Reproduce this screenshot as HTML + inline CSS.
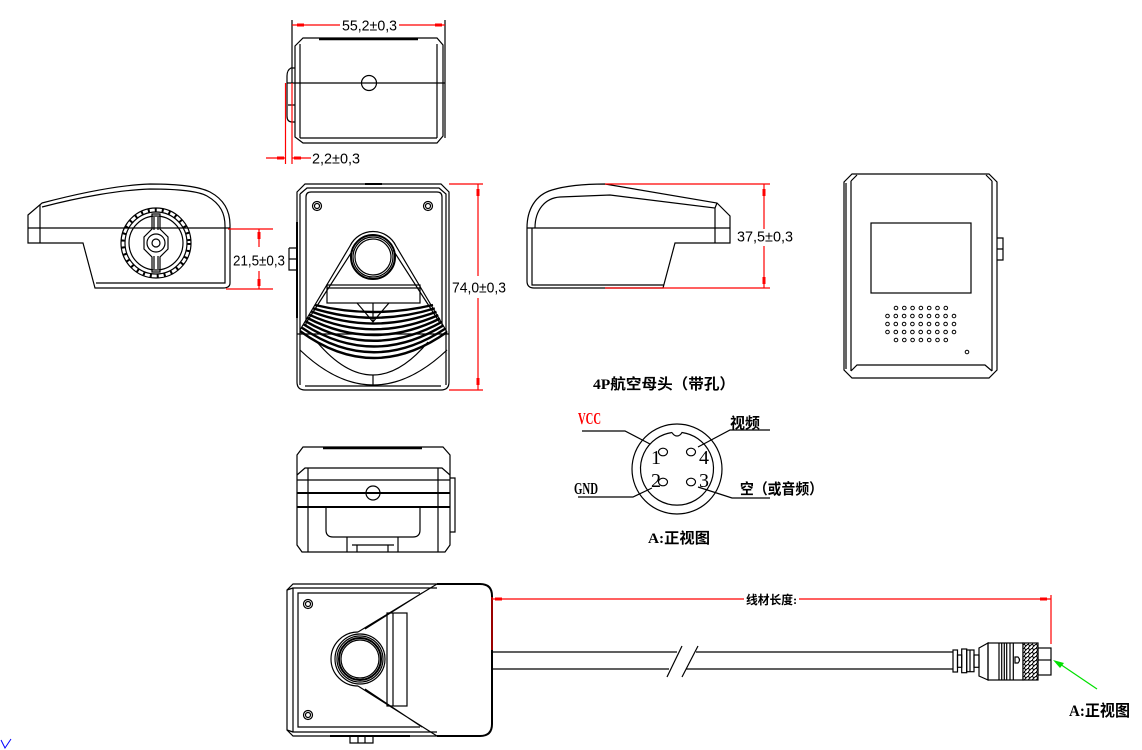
<!DOCTYPE html>
<html><head><meta charset="utf-8"><style>
html,body{margin:0;padding:0;background:#fff;}
svg{display:block}
.k{fill:none;stroke:#000;stroke-width:1.2}
.r{fill:none;stroke:#f00;stroke-width:1.2}
.dim{font-family:"Liberation Sans",sans-serif;font-size:15px;fill:#000}
.cn{font-family:"Liberation Serif","Noto Sans CJK SC",serif;font-weight:bold;fill:#000}
.sf{font-family:"Liberation Serif",serif;fill:#000}
</style></head><body>
<svg width="1142" height="750" viewBox="0 0 1142 750" xmlns="http://www.w3.org/2000/svg">
<defs>
<pattern id="kn" width="4" height="4" patternUnits="userSpaceOnUse">
<rect width="4" height="4" fill="#fff"/>
<path d="M0,0 L2,2 M2,2 L4,0 M0,4 L2,2" stroke="#000" stroke-width="1"/>
</pattern>
</defs>

<!-- ============ TOP VIEW ============ -->
<g class="k">
<path d="M292,20 V83 M445,20 V138"/>
<path d="M295,46 L303,38 H437 L443,45 V136 L437,143 H303 L295,137 Z"/>
<path d="M300,44 V138 M437,44 V138 M300,138 H437"/>
<path d="M287,83 H445"/>
<circle cx="369" cy="83" r="7.5"/>
<path d="M295,68 H291 Q287,70 287,76 V116 Q287,122 292,122 H295 M288,105 H295"/>
</g>
<path d="M319,39 H418" stroke="#000" stroke-width="2.5"/>
<path class="r" d="M292,25 H340 M399,25 H445"/>
<rect x="297" y="23.5" width="7" height="3" fill="#f00"/>
<rect x="435" y="23.5" width="7" height="3" fill="#f00"/>
<text x="342" y="30.5" class="dim" textLength="55" lengthAdjust="spacingAndGlyphs">55,2±0,3</text>
<path class="r" d="M285.5,83 V164 M292,83 V164 M266,158 H285.5 M292,158 H311"/>
<rect x="277" y="156.5" width="7" height="3" fill="#f00"/>
<rect x="294" y="156.5" width="7" height="3" fill="#f00"/>
<text x="312" y="163.5" class="dim" textLength="48" lengthAdjust="spacingAndGlyphs">2,2±0,3</text>

<!-- ============ LEFT SIDE VIEW ============ -->
<g class="k">
<path d="M28,215 L42,203 C80,193 120,185 150,184 C180,184 200,187 210,192 C225,200 230,212 230,225 V283 Q230,288 223,288 H95 L83,243 H28 Z"/>
<path d="M42,207 C80,197 120,190 150,189 C180,189 198,191 207,196 C221,204 225,214 225,226 V283 H96"/>
<path d="M40,205 V243 M28,228 H230"/>
<circle cx="156" cy="243" r="35"/>
<circle cx="156" cy="243" r="31"/>
<circle cx="156" cy="243" r="33" stroke-width="3.5" stroke-dasharray="2 5"/>
<circle cx="156" cy="243" r="27"/>
<path d="M152,214 H160 V229 L168,237 V249 L160,257 V272 H152 V257 L144,249 V237 L152,229 Z"/>
<path d="M154,217 V230 M158,217 V230 M154,256 V269 M158,256 V269"/>
<circle cx="156" cy="243" r="9"/>
<circle cx="156" cy="243" r="4"/>
</g>
<path class="r" d="M228,229 H273 M226,289 H273 M259,229 V247 M259,271 V289"/>
<rect x="257.5" y="232" width="3" height="7" fill="#f00"/>
<rect x="257.5" y="279" width="3" height="7" fill="#f00"/>
<text x="233" y="265.5" class="dim" textLength="52" lengthAdjust="spacingAndGlyphs">21,5±0,3</text>

<!-- ============ FRONT VIEW ============ -->
<g class="k">
<path d="M297,192 L305,184 H441 L449,192 V382 Q449,390 441,390 H305 Q297,390 297,382 Z"/>
<path d="M300,194 L307,188 H439 L446,194 V385 M300,194 V385 M305,386 H441"/>
<path d="M306,325 V197 Q306,192 311,192 H437 Q442,192 442,197 V325"/>
<circle cx="317" cy="206" r="4.5"/><circle cx="317" cy="206" r="2.5"/>
<circle cx="428" cy="206" r="4.5"/><circle cx="428" cy="206" r="2.5"/>
<circle cx="373" cy="257" r="18"/>
<circle cx="373" cy="257" r="20"/>
<circle cx="373" cy="257" r="22" stroke-width="2"/>
<path d="M300,330 L350,246 A25.5,25.5 0 0 1 396,246 L447,332"/>
<path d="M306,323 L353,250 M440,323 L393,250"/>
<rect x="327" y="285" width="93" height="18"/>
<path d="M327,288 H420"/>
<path d="M357,303 Q365,312 373,322 Q381,312 389,303 M373,303 V322"/>
<path d="M297,334 H449"/>
<path d="M317,342 Q373,408 428,342"/>
<path d="M300,350 Q373,420 447,350"/>
<path d="M373,375 V386"/>
<path d="M289,248 H297 M289,248 V270 H297 M289,259 H297"/>
</g>
<g fill="none" stroke="#000" stroke-width="2.4">
<path d="M315,305 Q373,319 433,305"/>
<path d="M313.1,308.3 Q373,327.2 434.8,308.4"/>
<path d="M311.3,311.5 Q373,335.4 436.5,311.8"/>
<path d="M309.4,314.8 Q373,343.6 438.3,315.1"/>
<path d="M307.5,318 Q373,351.8 440,318.5"/>
<path d="M305.6,321.3 Q373,359.9 441.8,321.9"/>
<path d="M303.8,324.5 Q373,368.1 443.5,325.3"/>
<path d="M301.9,327.8 Q373,376.3 445.3,328.6"/>
<path d="M300,331 Q373,384.5 447,332"/>
</g>
<path d="M365,184 H382" stroke="#000" stroke-width="2"/>
<path d="M297,222 V318" stroke="#000" stroke-width="2"/>
<path class="r" d="M449,184 H483 M449,390 H483 M478,184 V276 M478,298 V390"/>
<rect x="476.5" y="189" width="3" height="7" fill="#f00"/>
<rect x="476.5" y="378" width="3" height="7" fill="#f00"/>
<text x="452" y="292.5" class="dim" textLength="54" lengthAdjust="spacingAndGlyphs">74,0±0,3</text>

<!-- ============ RIGHT SIDE VIEW ============ -->
<g class="k">
<path d="M527,228 C527,210 535,195 552,190 C565,186 585,184 605,184 L717,203 L730,216 V243 H675 L663,288 H534 Q527,288 527,281 Z"/>
<path d="M535,228 C535,210 545,198 560,197 L610,195 L715,208 V243"/>
<path d="M717,203 L715,208 M527,228 H730 M532,228 V285 H664"/>
</g>
<path class="r" d="M605,184 H770 M605,288 H770 M764,184 V229 M764,246 V288"/>
<rect x="762.5" y="189" width="3" height="7" fill="#f00"/>
<rect x="762.5" y="277" width="3" height="7" fill="#f00"/>
<text x="737" y="241.5" class="dim" textLength="56" lengthAdjust="spacingAndGlyphs">37,5±0,3</text>

<!-- ============ BACK VIEW ============ -->
<g class="k">
<path d="M844,182 L852,174 H989 L997,182 V370 L989,378 H852 L844,370 Z"/>
<path d="M846,183 V369 M851,181 V371 M992,181 V371 M851,181 L857,175 M992,181 L986,175 M851,371 L857,365 H985 L992,371"/>
<rect x="871" y="223" width="100" height="70"/>
<path d="M997,238 H1003 V260 H997 M997,249 H1003"/>
</g>
<g fill="none" stroke="#000" stroke-width="1">
<g id="r7"><circle cx="896" cy="308" r="1.8"/><circle cx="904.3" cy="308" r="1.8"/><circle cx="912.6" cy="308" r="1.8"/><circle cx="920.9" cy="308" r="1.8"/><circle cx="929.2" cy="308" r="1.8"/><circle cx="937.5" cy="308" r="1.8"/><circle cx="945.8" cy="308" r="1.8"/></g>
<g id="r9"><circle cx="887.5" cy="316" r="1.8"/><circle cx="895.8" cy="316" r="1.8"/><circle cx="904.1" cy="316" r="1.8"/><circle cx="912.4" cy="316" r="1.8"/><circle cx="920.7" cy="316" r="1.8"/><circle cx="929" cy="316" r="1.8"/><circle cx="937.3" cy="316" r="1.8"/><circle cx="945.6" cy="316" r="1.8"/><circle cx="954" cy="316" r="1.8"/></g>
<use href="#r9" y="8"/>
<use href="#r9" y="16"/>
<use href="#r7" y="32"/>
<circle cx="967" cy="352" r="1.8"/>
</g>

<!-- ============ BOTTOM VIEW ============ -->
<g class="k">
<path d="M297,455 L303,447 H443 L450,455 V545 L445,552 H302 L297,545 Z"/>
<path d="M297,475 L305,468 H442 L450,475 M297,480 H450"/>
<path d="M308,468 V552 M438,468 V552"/>
<circle cx="373" cy="493" r="7"/>
<path d="M326,507 V530 Q326,537 333,537 H413 Q420,537 420,530 V507"/>
<path d="M347,537 V552 M398,537 V552 M352,545 H394 M357,545 V552 M388,545 V552"/>
<path d="M450,478 H455 V532 H450"/>
</g>
<path d="M323,448 H422" stroke="#000" stroke-width="2.5"/>
<path d="M297,493 H450 M297,507 H450" stroke="#000" stroke-width="2"/>

<!-- ============ CONNECTOR DIAGRAM ============ -->
<text x="593" y="389" class="cn" font-size="15" textLength="142" lengthAdjust="spacingAndGlyphs">4P航空母头（带孔）</text>
<g class="k" stroke-width="1">
<circle cx="677" cy="469" r="45"/>
<path d="M672,432.5 A36.5,36.5 0 1 0 682,432.5 Q680,436 677,436 Q674,436 672,432.5"/>
<ellipse cx="663" cy="452" rx="4.5" ry="3.8"/>
<ellipse cx="691" cy="452" rx="4.5" ry="3.8"/>
<ellipse cx="663" cy="482" rx="4.5" ry="3.8"/>
<ellipse cx="691" cy="482" rx="4.5" ry="3.8"/>
<path d="M582,431 H625 L650,444"/>
<path d="M698,447 L730,430 H770"/>
<path d="M578,497 H633 L652,488"/>
<path d="M698,487 L732,498 H770"/>
</g>
<text x="651" y="464" class="sf" font-size="20">1</text>
<text x="699" y="464" class="sf" font-size="20">4</text>
<text x="651" y="487" class="sf" font-size="20">2</text>
<text x="699" y="487" class="sf" font-size="20">3</text>
<text x="578" y="424" font-family="Liberation Serif,serif" font-weight="bold" font-size="17" fill="#f00" textLength="23" lengthAdjust="spacingAndGlyphs">VCC</text>
<text x="574" y="494" font-family="Liberation Serif,serif" font-weight="bold" font-size="17" fill="#000" textLength="24" lengthAdjust="spacingAndGlyphs">GND</text>
<text x="730" y="428" class="cn" font-size="15" textLength="30" lengthAdjust="spacingAndGlyphs">视频</text>
<text x="740" y="494" class="cn" font-size="15" textLength="83" lengthAdjust="spacingAndGlyphs">空（或音频）</text>
<text x="648" y="543" class="cn" font-size="15" textLength="62" lengthAdjust="spacingAndGlyphs">A:正视图</text>

<!-- ============ CABLE VIEW ============ -->
<g class="k">
<path d="M287,590 L293,584 H480 Q492,584 492,596 V724 Q492,736 480,736 H293 L287,730 Z"/>
<path d="M437,588 H293 V732 H437 M420,593 H298 V727 H420"/>
<path d="M287,590 L293,588 M287,730 L293,732"/>
<path d="M437,584 L358,632 M422,593 L365,629"/>
<path d="M437,736 L358,686 M422,727 L365,689"/>
<path d="M358,632 A27,27 0 0 0 358,686"/>
<circle cx="360" cy="659" r="25"/>
<circle cx="360" cy="659" r="23"/>
<circle cx="360" cy="659" r="21" stroke-width="2"/>
<circle cx="360" cy="659" r="19"/>
<rect x="387" y="613" width="20" height="93"/>
<path d="M393,613 V706"/>
<circle cx="308" cy="604" r="4.5"/><circle cx="308" cy="604" r="2.5"/>
<circle cx="308" cy="715" r="4.5"/><circle cx="308" cy="715" r="2.5"/>
<path d="M350,736 V743 H373 V736 M358,736 V743 M365,736 V743"/>
<path d="M492,652 H677 M696,652 H953 M492,669 H669 M686,669 H953"/>
<path d="M682,646 L667,677 M698,646 L682,677"/>
</g>
<path d="M437,584 H480 Q492,584 492,596 V724 Q492,736 480,736 H437" fill="none" stroke="#000" stroke-width="2"/>
<path d="M330,736 H410" stroke="#000" stroke-width="2"/>
<path class="r" d="M492,597 V650 M492,599 H744 M799,599 H1051 M1051,595 V644"/>
<rect x="495" y="597.5" width="7" height="3" fill="#f00"/>
<rect x="1040" y="597.5" width="7" height="3" fill="#f00"/>
<text x="746" y="604" class="cn" font-size="12" textLength="51" lengthAdjust="spacingAndGlyphs">线材长度:</text>

<!-- connector plug -->
<g class="k">
<rect x="953" y="650" width="4.5" height="22"/>
<rect x="957.5" y="655" width="4.2" height="12.3"/>
<rect x="961.7" y="649" width="5" height="23.7"/>
<rect x="966.7" y="650" width="7.3" height="21.7"/>
<path d="M970,650 V672"/>
<rect x="974" y="655" width="5" height="12.3"/>
<path d="M979,648 L988,643 V680 L979,676 Z"/>
<rect x="988" y="643" width="35" height="37"/>
<path d="M999,643 V680 M1001.7,643 V680 M1004.3,643 V680 M1006.7,643 V680 M1010,643 V680 M1013.3,643 V680"/>
<path d="M1015,657 H1018 Q1021,660 1018,663 H1015 Z"/>
<rect x="1038" y="648" width="13" height="27"/>
<path d="M1038,660 H1051"/>
</g>
<rect x="1023" y="643" width="15" height="37" fill="url(#kn)" stroke="#000" stroke-width="1.2"/>
<path d="M1097,689 L1060,664" stroke="#00e000" stroke-width="1.2" fill="none"/>
<path d="M1053,660 L1064,663 L1060,668 Z" fill="#00e000"/>
<text x="1069" y="716" class="cn" font-size="16" textLength="61" lengthAdjust="spacingAndGlyphs">A:正视图</text>

<path d="M1,740 L5,748 L11,739" stroke="#0000ff" stroke-width="1" fill="none"/>
</svg>
</body></html>
